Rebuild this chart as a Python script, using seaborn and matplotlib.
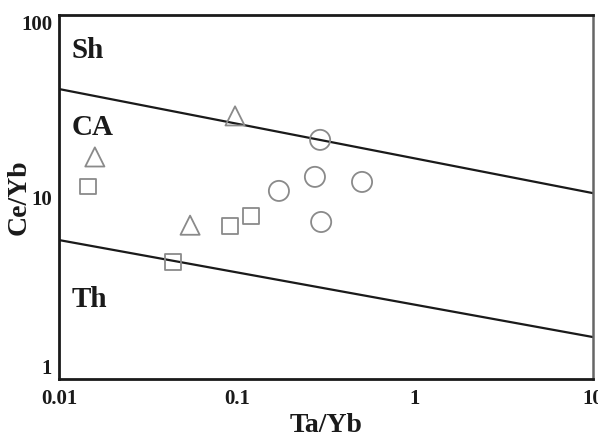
import matplotlib
matplotlib.use("Agg")
import matplotlib.pyplot as plt
import seaborn as sns
import pandas as pd
import numpy as np

# Data
tri_x = [0.0159, 0.0975, 0.0545]
tri_y = [16.6, 27.9, 7.0]
sq_x = [0.0146, 0.0437, 0.0914, 0.120]
sq_y = [11.4, 4.39, 6.93, 7.87]
circ_x = [0.293, 0.172, 0.274, 0.504, 0.297]
circ_y = [20.6, 10.8, 12.9, 12.1, 7.29]

# Boundary lines (endpoints at x = 0.01 and x = 10)
line_x = [0.01, 10]
upper_y = [39.2, 10.5]
lower_y = [5.8, 1.70]

field_labels = ["Sh", "CA", "Th"]
field_x = [0.0118, 0.0118, 0.0118]
field_y = [64.0, 24.0, 2.72]

xticks = [0.01, 0.1, 1, 10]
xtick_labels = ["0.01", "0.1", "1", "10"]
yticks = [1, 10, 100]
ytick_labels = ["1", "10", "100"]

sns.set_theme(style="white")
plt.rcParams['font.family'] = ['Liberation Serif', 'DejaVu Serif']
plt.rcParams['font.weight'] = 'bold'

fig = plt.figure(figsize=(5.98, 4.40), dpi=100)
ax = fig.add_axes([59/598, 61/440, 534/598, 364/440])

lines_df = pd.DataFrame({"x": line_x * 2, "y": upper_y + lower_y,
                         "line": ["upper"] * 2 + ["lower"] * 2})
for name, g in lines_df.groupby("line"):
    sns.lineplot(data=g, x="x", y="y", ax=ax, color="#1a1a1a", lw=1.6, legend=False)

edge = "#8a8a8a"
groups = [(tri_x, tri_y, "^", 190), (sq_x, sq_y, "s", 125), (circ_x, circ_y, "o", 210)]
for gx, gy, m, s in groups:
    df = pd.DataFrame({"x": gx, "y": gy})
    sns.scatterplot(data=df, x="x", y="y", ax=ax, marker=m, s=s,
                    facecolors="none", edgecolors=edge, linewidths=1.3, zorder=3)

ax.set_xscale("log")
ax.set_yscale("log")
ax.set_xlim(0.01, 10)
ax.set_ylim(1, 100)
ax.minorticks_off()
ax.set_xticks(xticks)
ax.set_xticklabels(xtick_labels)
ax.set_yticks(yticks)
ax.set_yticklabels(ytick_labels)
ax.tick_params(axis="x", direction="in", length=5, width=1, pad=7, labelsize=15, colors="#1a1a1a")
ax.tick_params(axis="y", direction="out", length=3, width=1, pad=2, labelsize=15, colors="#1a1a1a")
for lab in ax.get_xticklabels() + ax.get_yticklabels():
    lab.set_fontweight("bold")
ylabs = ax.get_yticklabels()
ylabs[0].set_va("bottom")
ylabs[2].set_va("top")

for side in ["left", "bottom", "top"]:
    ax.spines[side].set_linewidth(2.0)
    ax.spines[side].set_color("#1a1a1a")
ax.spines["right"].set_linewidth(1.8)
ax.spines["right"].set_color("#666666")

for t, fx, fy in zip(field_labels, field_x, field_y):
    ax.text(fx, fy, t, fontsize=21, fontweight="bold", ha="left", va="center", color="#1a1a1a")

ax.set_xlabel("Ta/Yb", fontsize=20, fontweight="bold", labelpad=3, color="#1a1a1a")
ax.set_ylabel("Ce/Yb", fontsize=20, fontweight="bold", color="#1a1a1a")
ax.yaxis.set_label_coords(-0.052, 0.5)

fig.savefig("out.png", dpi=100, facecolor="white")
